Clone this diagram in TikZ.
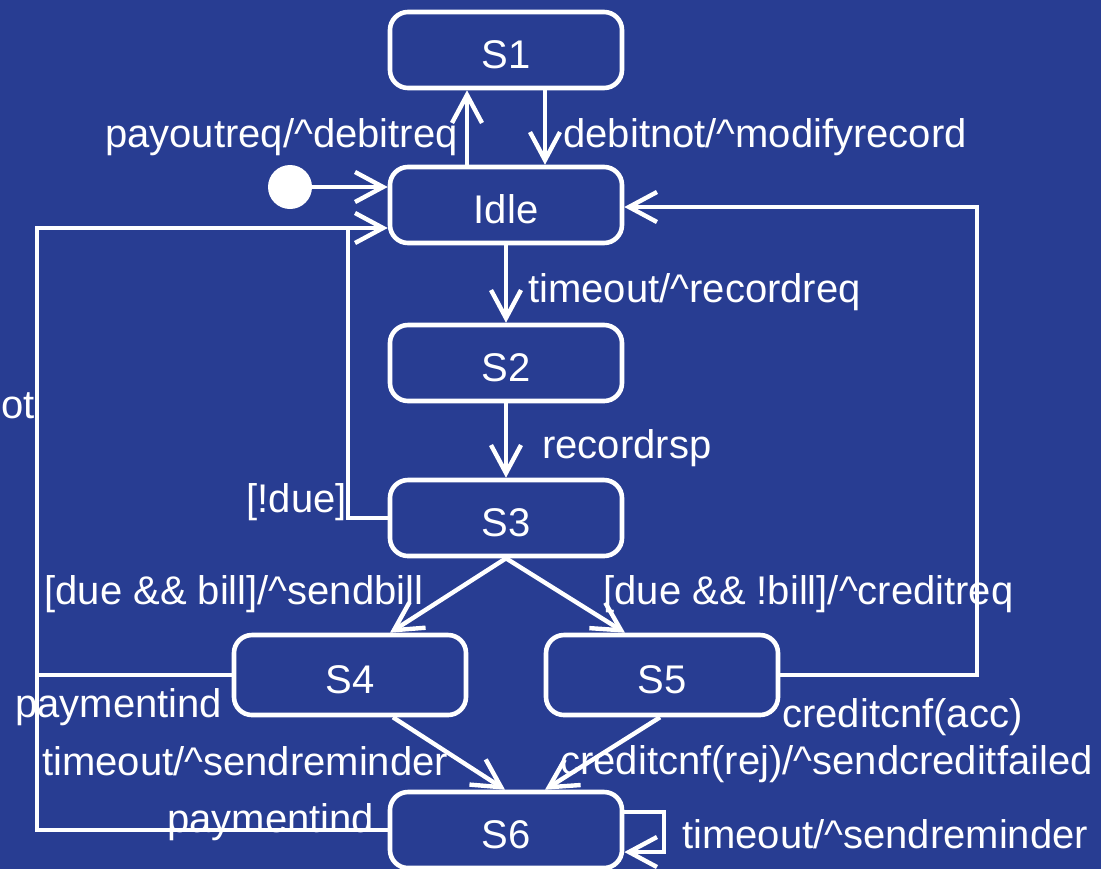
\documentclass[tikz,border=0pt]{standalone}
\usepackage{fontspec}
\setmainfont{Liberation Sans}
\usetikzlibrary{arrows.meta}
\definecolor{bg}{RGB}{40,61,146}
\begin{document}
\begin{tikzpicture}[x=0.5pt,y=-0.5pt,
  every node/.style={text=white,font=\fontsize{20pt}{24pt}\selectfont},
  state/.style={draw=white,line width=2.3pt,rounded corners=9pt,minimum width=116pt,minimum height=38pt,inner sep=0pt,text height=18pt,text depth=0pt},
  lbl/.style={inner sep=0pt},
  conn/.style={draw=white,line width=2.2pt,-{Straight Barb[length=14pt,width=15pt]}},
  wire/.style={draw=white,line width=2.2pt}
]
\fill[bg] (0,0) rectangle (1101,869);
\useasboundingbox (0,0) rectangle (1101,869);

% states
\node[state] (S1) at (506,50) {S1};
\node[state] (Idle) at (506,205) {Idle};
\node[state] (S2) at (506,363) {S2};
\node[state] (S3) at (506,518) {S3};
\node[state,minimum height=40pt] (S4) at (350,675) {S4};
\node[state,minimum height=40pt] (S5) at (662,675) {S5};
\node[state] (S6) at (506,830) {S6};
\node[circle,fill=white,minimum size=22pt,inner sep=0pt] (init) at (290,187) {};

% helper coordinates
\coordinate (xA) at (467,0);
\coordinate (xB) at (545,0);
\coordinate (x390) at (390,0);
\coordinate (x625) at (625,0);
\coordinate (x393) at (393,0);
\coordinate (x505) at (505,0);
\coordinate (x660) at (660,0);
\coordinate (x545) at (545,0);
\coordinate (c1) at (37,228);
\coordinate (c4) at (348,228);
\coordinate (c5) at (977,207);
\coordinate (c6) at (664,812);
\coordinate (c7) at (664,852);

% connectors
\draw[conn] (init.east) -- (Idle.west |- init.east);
\draw[conn] (Idle.north -| xA) -- (S1.south -| xA);
\draw[conn] (S1.south -| xB) -- (Idle.north -| xB);
\draw[conn] (Idle) -- (S2);
\draw[conn] (S2) -- (S3);
\draw[conn] (S3.south) -- (S4.north -| x390);
\draw[conn] (S3.south) -- (S5.north -| x625);
\draw[conn] (S4.south -| x393) -- (S6.north -| x505);
\draw[conn] (S5.south -| x660) -- (S6.north -| x545);
\draw[conn] (S6.west) -- (S6.west -| c1) -- (c1) -- (Idle.west |- c1);
\draw[wire] (S4.west) -- (S4.west -| c1);
\draw[wire] (S3.west) -- (S3.west -| c4) -- (c4);
\draw[conn] (S5.east) -- (S5.east -| c5) -- (c5) -- (Idle.east |- c5);
\draw[conn] (S6.east |- c6) -- (c6) -- (c7) -- (S6.east |- c7);

% labels
\node[lbl,anchor=base east] (l1) at (458,147) {payoutreq/\textasciicircum debitreq};
\node[lbl,anchor=base west] (l2) at (563,147) {debitnot/\textasciicircum modifyrecord};
\node[lbl,anchor=base west] (l3) at (528,302) {timeout/\textasciicircum recordreq};
\node[lbl,anchor=base west] (l4) at (542,458) {recordrsp};
\node[lbl,anchor=base east] (l5) at (347,512) {[!due]};
\node[lbl,anchor=base east] (l6) at (35,418) {ot};
\node[lbl,anchor=base west] (l7) at (44,604) {[due \&\& bill]/\textasciicircum sendbill};
\node[lbl,anchor=base west] (l8) at (603,604) {[due \&\& !bill]/\textasciicircum creditreq};
\node[lbl,anchor=base west] (l9) at (15,717) {paymentind};
\node[lbl,anchor=base west] (l10) at (42,775) {timeout/\textasciicircum sendreminder};
\node[lbl,anchor=base west] (l11) at (167,832) {paymentind};
\node[lbl,anchor=base west] (l12) at (782,727) {creditcnf(acc)};
\node[lbl,anchor=base west] (l13) at (560,774) {creditcnf(rej)/\textasciicircum sendcreditfailed};
\node[lbl,anchor=base west] (l14) at (682,848) {timeout/\textasciicircum sendreminder};
\end{tikzpicture}
\end{document}
